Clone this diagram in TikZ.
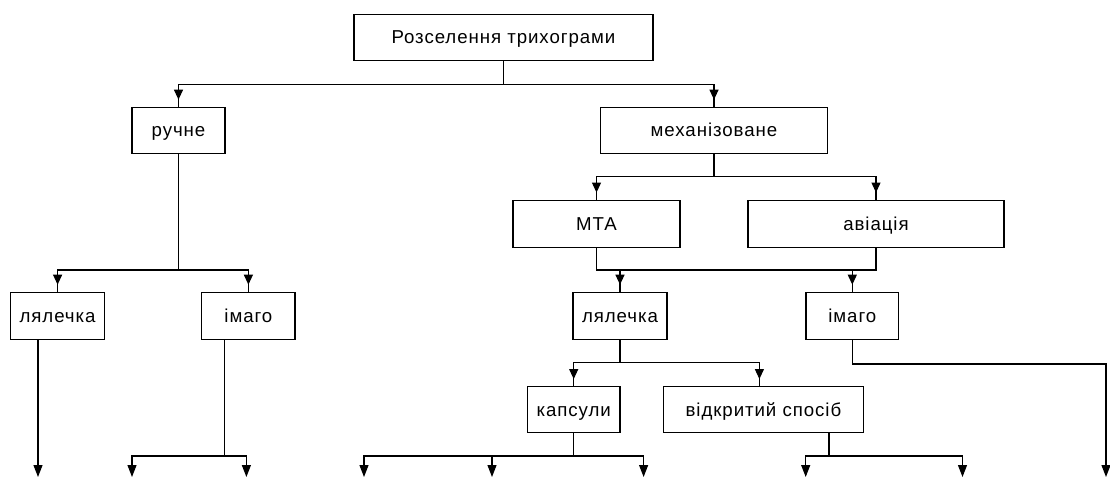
\documentclass[tikz,border=0pt]{standalone}
\usepackage{fontspec}
\setmainfont[LetterSpace=5]{Liberation Sans}
\usetikzlibrary{arrows.meta,decorations.markings}
\tikzset{
  box/.style={draw, line width=0.95pt, inner sep=0pt, font=\fontsize{14pt}{16pt}\selectfont,
    text height=10pt, text depth=0pt, minimum height=34.5pt},
  conn/.style={line width=0.85pt},
  tobox/.style={postaction={decorate, decoration={markings, mark=at position -5.25pt with {\arrow{Triangle[width=6.75pt,length=7.5pt]}}}}},
  toend/.style={-{Triangle[width=6.75pt,length=9pt]}},
}
\begin{document}
\begin{tikzpicture}[x=0.75pt,y=-0.75pt]
\useasboundingbox (0,0) rectangle (1110,477);
% nodes
\node[box, minimum width=224.25pt] (top) at (503.5,37.2) {Розселення трихограми};
\node[box, minimum width=69.75pt] (ruchne) at (178.5,130.3) {ручне};
\node[box, minimum width=170.6pt] (mekh) at (714,130.3) {механізоване};
\node[box, minimum width=125.25pt, minimum height=35.25pt] (mta) at (596.5,223.7) {МТА};
\node[box, minimum width=192pt, minimum height=35.25pt] (avia) at (876,223.7) {авіація};
\node[box, minimum width=70.5pt, minimum height=35.5pt] (lyal1) at (57.6,316) {лялечка};
\node[box, minimum width=70pt, minimum height=35.5pt] (imago1) at (248.4,316) {імаго};
\node[box, minimum width=70.5pt, minimum height=35.5pt] (lyal2) at (620,316) {лялечка};
\node[box, minimum width=69.5pt, minimum height=35.5pt] (imago2) at (852.3,316) {імаго};
\node[box, minimum width=69.4pt] (kaps) at (573.7,409.7) {капсули};
\node[box, minimum width=149.7pt] (vidkr) at (763.4,409.7) {відкритий спосіб};
% junction levels and free ends
\coordinate (h1) at (0,84.3);
\coordinate (h2) at (0,270);
\coordinate (h3) at (0,176.7);
\coordinate (h5) at (0,362.7);
\coordinate (h6) at (0,456);
\coordinate (h7) at (0,364);
\coordinate (b0) at (38,477);
\coordinate (b7) at (132,477);
\coordinate (b8) at (246.4,477);
\coordinate (b1) at (364,477);
\coordinate (b2) at (492,477);
\coordinate (b3) at (643.6,477);
\coordinate (b4) at (805.7,477);
\coordinate (b5) at (962.5,477);
\coordinate (b6) at (1106,477);
% top level
\draw[conn,tobox] (top.south) |- (ruchne.north |- h1) -- (ruchne.north);
\draw[conn,tobox] (top.south) |- (mekh.north |- h1) -- (mekh.north);
% ruchne
\draw[conn,tobox] (ruchne.south) |- (lyal1.north |- h2) -- (lyal1.north);
\draw[conn,tobox] (ruchne.south) |- (imago1.north |- h2) -- (imago1.north);
% mekh
\draw[conn,tobox] (mekh.south) |- (mta.north |- h3) -- (mta.north);
\draw[conn,tobox] (mekh.south) |- (avia.north |- h3) -- (avia.north);
% MTA / avia bus
\draw[conn] (mta.south) |- (avia.south |- h2) -- (avia.south);
\draw[conn,tobox] (lyal2.north |- h2) -- (lyal2.north);
\draw[conn,tobox] (imago2.north |- h2) -- (imago2.north);
% lyal2
\draw[conn,tobox] (lyal2.south) |- (kaps.north |- h5) -- (kaps.north);
\draw[conn,tobox] (lyal2.south) |- ([xshift=-3pt]vidkr.north |- h5) -- ([xshift=-3pt]vidkr.north);
% left bottom
\draw[conn,toend] (lyal1.south -| b0) -- (b0);
\draw[conn,toend] ([xshift=-18.1pt]imago1.south) |- (b7 |- h6) -- (b7);
\draw[conn,toend] ([xshift=-18.1pt]imago1.south) |- (b8 |- h6) -- (b8);
% kaps bottom
\draw[conn,toend] (kaps.south) |- (b1 |- h6) -- (b1);
\draw[conn,toend] (kaps.south) |- (b2 |- h6) -- (b2);
\draw[conn,toend] (kaps.south) |- (b3 |- h6) -- (b3);
% vidkr bottom
\draw[conn,toend] ([xshift=49.2pt]vidkr.south) |- (b4 |- h6) -- (b4);
\draw[conn,toend] ([xshift=49.2pt]vidkr.south) |- (b5 |- h6) -- (b5);
% imago2
\draw[conn,toend] (imago2.south) |- (b6 |- h7) -- (b6);
\end{tikzpicture}
\end{document}
